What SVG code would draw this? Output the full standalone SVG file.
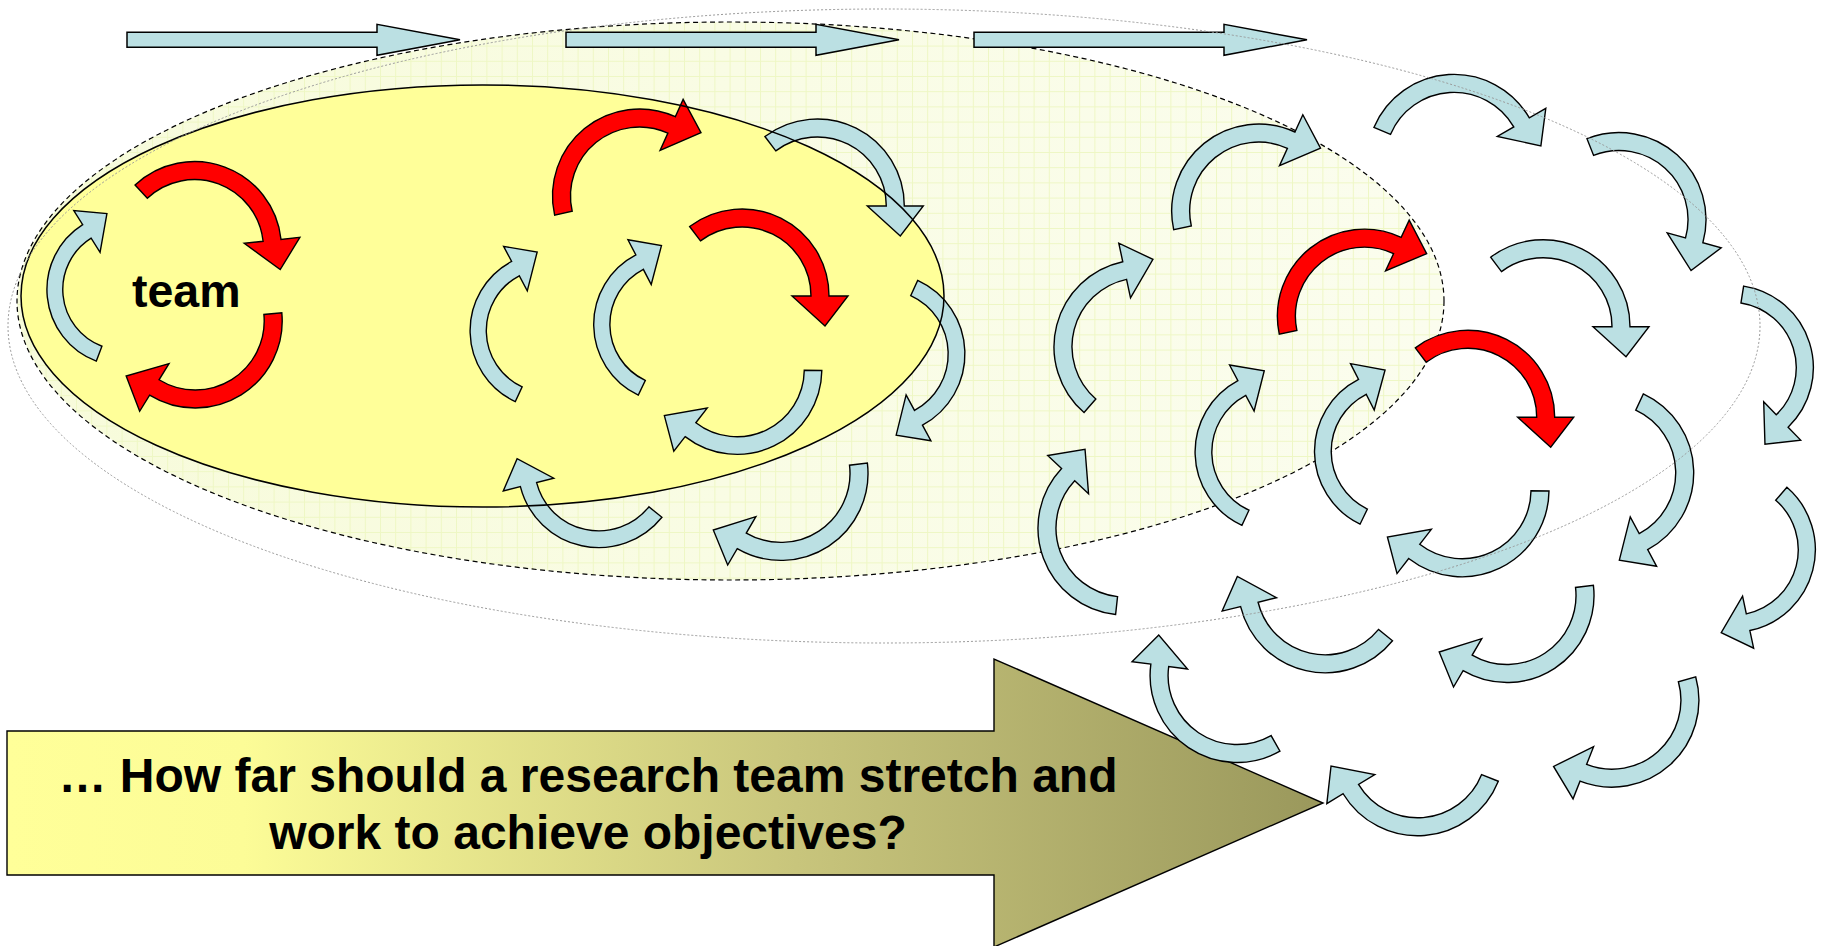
<svg xmlns="http://www.w3.org/2000/svg" width="1822" height="946" viewBox="0 0 1822 946">
  <defs>
    <style>
      .loop{stroke:#000;stroke-width:1.4;stroke-linejoin:miter}
      .blue{fill:#BBE0E3}
      .red{fill:#FF0000}
      .bar{fill:#BBE0E3;stroke:#000;stroke-width:1.5}
      .lbl{font-family:"Liberation Sans",Arial,Helvetica,sans-serif;font-weight:bold;fill:#000}
    </style>
    <linearGradient id="haze" gradientUnits="userSpaceOnUse" x1="17" y1="0" x2="1444" y2="0">
      <stop offset="0" stop-color="#F7FBDA"/>
      <stop offset="1" stop-color="#FBFDEE"/>
    </linearGradient>
    <pattern id="grid" width="15.2" height="15.2" patternUnits="userSpaceOnUse">
      <path d="M0.5 0V15.2M0 0.5H15.2" fill="none" stroke="#EEF7C4" stroke-width="1"/>
    </pattern>
    <linearGradient id="bigGrad" gradientUnits="userSpaceOnUse" x1="7" y1="0" x2="1323" y2="0">
      <stop offset="0" stop-color="#FFFF99"/>
      <stop offset="0.18" stop-color="#FCFC97"/>
      <stop offset="0.6" stop-color="#C8C57C"/>
      <stop offset="1" stop-color="#9A985C"/>
    </linearGradient>
    <!-- curved arrow: arc centred on the origin, mid radius 78, head at angle 0, turning clockwise -->
    <path id="carrow" vector-effect="non-scaling-stroke" d="M-52.36,-69.48 A87,87 0 0 1 87,0 L106,0 L83,30 L50,0 L69,0 A69,69 0 0 0 -41.53,-55.11 Z"/>
    <!-- straight block arrow for the top row -->
    <path id="bar" d="M0,32.3 H250 V24.3 L333,39.8 L250,55.3 V47.3 H0 Z"/>
  </defs>

  <!-- background areas -->
  <g id="areas">
    <ellipse cx="730.5" cy="301" rx="713.5" ry="279" fill="url(#haze)"/>
    <ellipse cx="730.5" cy="301" rx="713.5" ry="279" fill="url(#grid)" stroke="#000" stroke-width="1.2" stroke-dasharray="5 3.5"/>
    <ellipse id="team-area" cx="482.5" cy="296" rx="461.5" ry="211" fill="#FFFF99"/>
  </g>

  <!-- top row of progress arrows -->
  <g id="progress">
    <use href="#bar" class="bar" x="127"/>
    <use href="#bar" class="bar" x="566"/>
    <use href="#bar" class="bar" x="974"/>
  </g>

  <!-- question arrow -->
  <g id="question">
    <path d="M7,731 H994 V659 L1323,803 L994,947 V875 H7 Z" fill="url(#bigGrad)" stroke="#000" stroke-width="1.4"/>
    <text class="lbl" x="588" y="791.5" font-size="48" text-anchor="middle">… How far should a research team stretch and</text>
    <text class="lbl" x="588" y="848.5" font-size="48" text-anchor="middle">work to achieve objectives?</text>
  </g>

  <!-- team cycle -->
  <g id="team">
    <use id="t1" href="#carrow" class="loop red" transform="translate(194.5 248.6) rotate(-6.1)"/>
    <use id="t2" href="#carrow" class="loop red" transform="translate(195.2 321) rotate(121.6)"/>
    <use id="t3" href="#carrow" class="loop blue" transform="translate(123.5 289.5) rotate(237.8) scale(0.88)"/>
    <text class="lbl" x="132" y="307" font-size="46.5">team</text>
  </g>

  <!-- middle cluster -->
  <g id="middle">
    <use id="m4" href="#carrow" class="loop red" transform="translate(639.5 196) rotate(294.3)"/>
    <use id="m5" href="#carrow" class="loop red" transform="translate(742 296)"/>
    <use id="m6" href="#carrow" class="loop blue" transform="translate(817.3 206)"/>
    <use id="m7" href="#carrow" class="loop blue" transform="translate(548.4 330.6) rotate(242) scale(0.9)"/>
    <use id="m8" href="#carrow" class="loop blue" transform="translate(672 324.4) rotate(242.5) scale(0.9)"/>
    <use id="m9" href="#carrow" class="loop blue" transform="translate(737 369.5) rotate(127.7) scale(0.975)"/>
    <use id="m10" href="#carrow" class="loop blue" transform="translate(884 354) rotate(61.6) scale(0.93)"/>
    <use id="m11" href="#carrow" class="loop blue" transform="translate(598.8 466.7) rotate(165.7) scale(0.93)"/>
    <use id="m12" href="#carrow" class="loop blue" transform="translate(781 473.4) rotate(120.2)"/>
  </g>

  <!-- outer cluster -->
  <g id="outer">
    <use id="o13" href="#carrow" class="loop blue" transform="translate(1258.7 211.1) rotate(294.6)"/>
    <use id="o14" href="#carrow" class="loop blue" transform="translate(1454 161.4) rotate(330)"/>
    <use id="o15" href="#carrow" class="loop blue" transform="translate(1619 219.6) rotate(15.4)"/>
    <use id="o16" href="#carrow" class="loop blue" transform="translate(1141 346.8) rotate(257.9)"/>
    <use id="o17" href="#carrow" class="loop red" transform="translate(1364.4 316.2) rotate(295)"/>
    <use id="o18" href="#carrow" class="loop blue" transform="translate(1543 326.7)"/>
    <use id="o19" href="#carrow" class="loop blue" transform="translate(1730.7 367.7) rotate(46) scale(0.95)"/>
    <use id="o20" href="#carrow" class="loop blue" transform="translate(1276 452) rotate(241.9) scale(0.93)"/>
    <use id="o21" href="#carrow" class="loop blue" transform="translate(1395.4 451.4) rotate(242.9) scale(0.93)"/>
    <use id="o22" href="#carrow" class="loop red" transform="translate(1467.7 417.3)"/>
    <use id="o23" href="#carrow" class="loop blue" transform="translate(1606.7 472.8) rotate(61.9)"/>
    <use id="o24" href="#carrow" class="loop blue" transform="translate(1462 489.8) rotate(127.8)"/>
    <use id="o25" href="#carrow" class="loop blue" transform="translate(1125 528) rotate(223.2)"/>
    <use id="o26" href="#carrow" class="loop blue" transform="translate(1732.7 549.7) rotate(78) scale(0.95)"/>
    <use id="o27" href="#carrow" class="loop blue" transform="translate(1325.1 585.8) rotate(166.2)"/>
    <use id="o28" href="#carrow" class="loop blue" transform="translate(1507 595.5) rotate(120.3)"/>
    <use id="o29" href="#carrow" class="loop blue" transform="translate(1237.1 675.5) rotate(187.5)"/>
    <use id="o30" href="#carrow" class="loop blue" transform="translate(1611.9 700.2) rotate(111.5)"/>
    <use id="o31" href="#carrow" class="loop blue" transform="translate(1417.6 748.8) rotate(148.9)"/>
  </g>

  <!-- outlines drawn over the loops -->
  <g id="outlines" fill="none">
    <ellipse cx="482.5" cy="296" rx="461.5" ry="211" stroke="#000" stroke-width="1.5"/>
    <ellipse cx="884" cy="326" rx="876" ry="317" stroke="#999" stroke-width="1" stroke-dasharray="2 2"/>
  </g>
</svg>
